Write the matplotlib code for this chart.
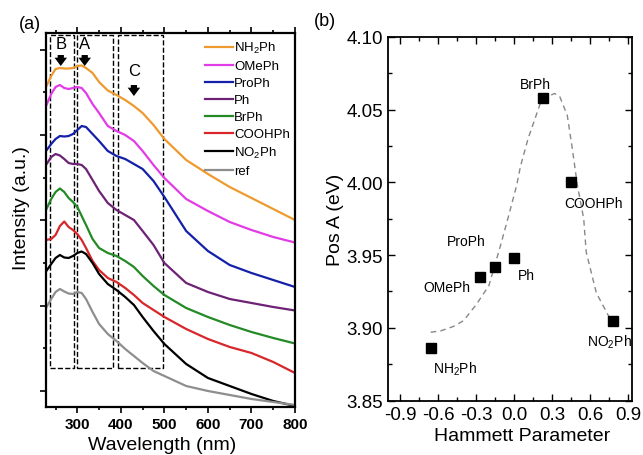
import numpy as np
import matplotlib
matplotlib.use('Agg')
import matplotlib.pyplot as plt
from matplotlib.patches import Rectangle
from matplotlib.ticker import MultipleLocator

plt.rcParams['font.family'] = ['Liberation Sans', 'DejaVu Sans']
plt.rcParams['mathtext.fontset'] = 'custom'
plt.rcParams['mathtext.rm'] = 'Liberation Sans'
plt.rcParams['mathtext.default'] = 'regular'

# (a) absorption spectra, offset curves (a.u.)
wavelength = [228, 240, 250, 260, 270, 280, 290, 300, 310, 320, 335, 350, 370,
              390, 410, 430, 450, 475, 500, 550, 600, 650, 700, 750, 800]
nh2ph = [320, 331, 338, 339, 338.5, 338.5, 339, 341, 341.5, 339, 334, 325, 316.5,
         312, 307, 301, 294, 282, 268, 247, 233, 220, 209, 198, 187]
omeph = [301, 313, 320, 322, 319, 318, 319, 320, 319, 314, 303, 294, 281,
         276, 272, 266, 256, 242, 229, 208, 196, 185, 177, 170, 164.5]
proph = [256, 263, 268, 271, 270.5, 271, 273, 277, 281, 280, 273, 266, 256,
         251, 248, 243, 238, 226, 210, 176, 156, 142, 134, 127, 120]
ph = [242, 250, 253, 251.5, 248, 244, 243, 243, 242, 238, 227, 216, 204,
      197, 192, 187, 176, 162, 144, 124, 115, 108, 104, 100, 96.5]
brph = [197, 208, 215, 218.5, 215, 209, 205, 200, 191, 182, 168, 159, 154,
        151, 146, 140, 131, 121, 112, 99, 90, 82, 75, 69, 63.5]
coohph = [167, 168, 172, 181, 185.5, 180, 177, 173, 167, 159, 146, 137, 129,
          125, 119, 112, 104, 97, 90, 78, 68, 60, 54, 45, 34]
no2ph = [135.5, 143, 149, 152, 149.5, 149, 151, 154, 155.5, 153, 144, 133, 123,
         117, 110, 102, 90, 76, 63, 43, 29, 21, 13, 6, 1]
ref = [99, 108, 115, 118, 115.5, 113.5, 113, 115, 114, 108, 95, 83, 73,
       66, 58, 51, 44, 36, 31, 21, 16, 12, 8, 5, 2]

spectra = [nh2ph, omeph, proph, ph, brph, coohph, no2ph, ref]
spec_labels = ['NH$_2$Ph', 'OMePh', 'ProPh', 'Ph', 'BrPh', 'COOHPh', 'NO$_2$Ph', 'ref']
spec_colors = ['#EE9A2E', '#E23CE6', '#1420A8', '#6E2276', '#238A26', '#D8262A', '#000000', '#8E8E8E']

# band regions (nm)
regions = [(238, 292), (299, 382), (394, 497)]
region_names = ['B', 'A', 'C']
region_pos = [262, 317, 430]

# (b) peak A position vs Hammett parameter
hammett = [-0.66, -0.27, -0.15, 0.00, 0.23, 0.45, 0.78]
pos_a = [3.886, 3.935, 3.942, 3.948, 4.058, 4.000, 3.905]
names = ['NH$_2$Ph', 'OMePh', 'ProPh', 'Ph', 'BrPh', 'COOHPh', 'NO$_2$Ph']
guide_x = [-0.66, -0.58, -0.48, -0.40, -0.30, -0.20, -0.11, -0.05, 0.02, 0.05, 0.11,
           0.21, 0.28, 0.32, 0.36, 0.42, 0.46, 0.50, 0.55, 0.57, 0.65, 0.76]
guide_y = [3.897, 3.898, 3.901, 3.905, 3.916, 3.929, 3.956, 3.975, 3.998, 4.011, 4.030,
           4.055, 4.0595, 4.061, 4.059, 4.046, 4.023, 3.998, 3.975, 3.952, 3.924, 3.906]

fig = plt.figure(figsize=(6.43, 4.56), dpi=100)

# ---- panel (a)
ax1 = fig.add_axes([0.0715, 0.1053, 0.3873, 0.8201])
for y, lab, c in zip(spectra, spec_labels, spec_colors):
    ax1.plot(wavelength, y, color=c, lw=1.6, label=lab)

for (x0, x1) in regions:
    ax1.add_patch(Rectangle((x0, 38.5), x1 - x0, 334, fill=False, ls='--', lw=1.0, ec='black'))
ax1.text(region_pos[0], 364, 'B', ha='center', va='center', fontsize=12)
ax1.text(region_pos[1], 364, 'A', ha='center', va='center', fontsize=12)
ax1.text(region_pos[2], 337, 'C', ha='center', va='center', fontsize=12)
for x, ytop in zip(region_pos, [352, 352, 322]):
    ax1.annotate('', xy=(x, ytop - 11), xytext=(x, ytop),
                 arrowprops=dict(arrowstyle='simple,head_width=0.9,head_length=0.6,tail_width=0.45',
                                 mutation_scale=10, color='black', lw=0, shrinkA=0, shrinkB=0))

ax1.set_xlim(228, 800)
ax1.set_ylim(0, 374)
ax1.xaxis.set_major_locator(MultipleLocator(100))
ax1.xaxis.set_minor_locator(MultipleLocator(50))
ax1.yaxis.set_major_locator(MultipleLocator(85.3, offset=16))
ax1.yaxis.set_minor_locator(MultipleLocator(42.65, offset=16))
ax1.set_yticklabels([])
ax1.tick_params(axis='x', which='both', direction='out', top=True, labelsize=11)
ax1.tick_params(axis='x', which='major', length=4, width=1.2)
ax1.tick_params(axis='x', which='minor', length=2.5, width=1.2)
ax1.tick_params(axis='y', which='major', direction='out', length=4.5, width=1.2)
ax1.tick_params(axis='y', which='minor', direction='out', length=2.5, width=1.2)
for lbl in ax1.get_xticklabels():
    lbl.set_fontweight('bold')
for s in ax1.spines.values():
    s.set_linewidth(1.6)
ax1.set_xlabel('Wavelength (nm)', fontsize=14)
ax1.set_ylabel('Intensity (a.u.)', fontsize=14)
ax1.xaxis.set_label_coords(0.468, -0.077)
ax1.yaxis.set_label_coords(-0.065, 0.535)
ax1.legend(loc='upper right', bbox_to_anchor=(1.01, 1.0), frameon=False, fontsize=9.5,
           handlelength=2.1, handletextpad=0.1, labelspacing=0.36, borderaxespad=0.15)
fig.text(0.046, 0.947, '(a)', fontsize=13, ha='center', va='center')

# ---- panel (b)
ax2 = fig.add_axes([0.603, 0.1191, 0.3795, 0.7982])
ax2.plot(guide_x, guide_y, ls=(0, (4, 3)), color='#888888', lw=1.0)
ax2.plot(hammett, pos_a, 's', color='black', ms=6.5)
label_xy = [(-0.47, 3.872), (-0.53, 3.928), (-0.38, 3.960), (0.10, 3.936),
            (0.165, 4.0675), (0.63, 3.986), (0.75, 3.891)]
for n, (tx, ty) in zip(names, label_xy):
    ax2.text(tx, ty, n, fontsize=10, ha='center', va='center')
ax2.set_xlim(-1.0, 0.93)
ax2.set_ylim(3.85, 4.10)
ax2.xaxis.set_major_locator(MultipleLocator(0.3))
ax2.xaxis.set_minor_locator(MultipleLocator(0.15))
ax2.yaxis.set_major_locator(MultipleLocator(0.05))
ax2.yaxis.set_minor_locator(MultipleLocator(0.025))
ax2.set_xticks(np.arange(-0.9, 0.91, 0.3))
ax2.set_xticklabels(['-0.9', '-0.6', '-0.3', '0.0', '0.3', '0.6', '0.9'])
ax2.set_yticks([3.85, 3.90, 3.95, 4.00, 4.05, 4.10])
ax2.set_yticklabels(['3.85', '3.90', '3.95', '4.00', '4.05', '4.10'])
ax2.tick_params(which='both', direction='in', top=True, right=True, labelsize=13.5, width=1.0)
ax2.tick_params(which='major', length=5)
ax2.tick_params(which='minor', length=3)
for s in ax2.spines.values():
    s.set_linewidth(1.3)
ax2.set_xlabel('Hammett Parameter', fontsize=14)
ax2.set_ylabel('Pos A (eV)', fontsize=14)
ax2.xaxis.set_label_coords(0.552, -0.072)
ax2.yaxis.set_label_coords(-0.18, 0.5)
fig.text(0.505, 0.952, '(b)', fontsize=13, ha='center', va='center')

fig.savefig('out.png', dpi=100)
